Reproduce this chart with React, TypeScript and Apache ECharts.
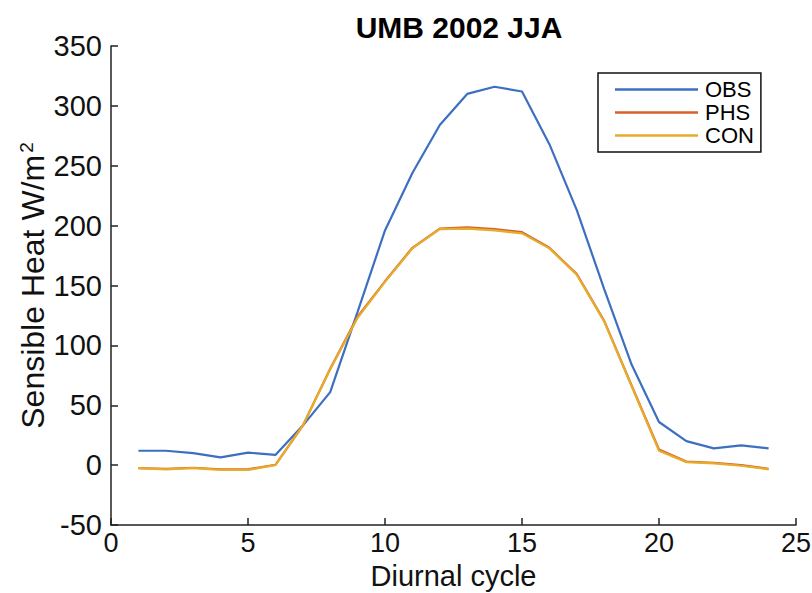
import React, { useEffect, useRef } from "react";
import * as echarts from "echarts";

const hours = [1, 2, 3, 4, 5, 6, 7, 8, 9, 10, 11, 12, 13, 14, 15, 16, 17, 18, 19, 20, 21, 22, 23, 24];
const obs = [12, 12, 10, 6.5, 10.5, 8.5, 33, 61, 128, 196, 244, 284, 310, 316, 312, 268, 213, 147, 84, 36, 20, 14, 16.5, 14];
const phs = [-2.5, -3.2, -2.2, -3.5, -3.5, 0.3, 33, 80.5, 124, 153.5, 181.5, 197.5, 198.5, 197, 194.5, 181.5, 159.5, 120.5, 66.5, 13, 3, 2, 0, -3];
const con = [-2.5, -3.5, -2.5, -4, -4, 0, 33, 80, 123, 153, 181, 197, 197.5, 196, 193.5, 181, 159, 120, 66, 12, 2.5, 1.5, -0.5, -3.5];
const seriesNames = ["OBS", "PHS", "CON"];
const seriesColors = ["#3d6fc1", "#d5602a", "#e6ad2c"];

const FONT = "'Liberation Sans', Arial, Helvetica, sans-serif";

export default function App() {
  const ref = useRef<HTMLDivElement>(null);
  useEffect(() => {
    if (!ref.current) return;
    const chart = echarts.init(ref.current, undefined, { renderer: "svg" });
    const values = [obs, phs, con];
    chart.setOption({
      animation: false,
      backgroundColor: "#ffffff",
      textStyle: { fontFamily: FONT },
      title: {
        text: "UMB 2002 JJA",
        left: 454,
        top: 7,
        textAlign: "center",
        textStyle: { fontFamily: FONT, fontSize: 30, fontWeight: "bold", color: "#000" },
      },
      legend: {
        orient: "vertical",
        left: 598,
        top: 73,
        data: seriesNames,
        icon: "rect",
        itemWidth: 83,
        itemHeight: 2.5,
        itemGap: 0,
        padding: [5, 7, 5, 17],
        borderColor: "#111",
        borderWidth: 1.5,
        backgroundColor: "#fff",
        textStyle: { fontFamily: FONT, fontSize: 22, color: "#000", lineHeight: 23, padding: [0, 0, 0, 2] },
      },
      grid: { left: 111, right: 16, top: 46, bottom: 68, containLabel: false, outerBoundsMode: "none" },
      xAxis: {
        type: "value",
        min: 0,
        max: 25,
        interval: 5,
        name: "Diurnal cycle",
        nameLocation: "middle",
        nameGap: 40,
        nameMoveOverlap: false,
        nameTextStyle: { fontFamily: FONT, fontSize: 29, color: "#111", lineHeight: 22 },
        axisLine: { show: true, onZero: false, lineStyle: { color: "#222", width: 1.5 } },
        axisTick: { show: true, inside: true, length: 7, lineStyle: { color: "#222", width: 1.5 } },
        axisLabel: { fontFamily: FONT, fontSize: 27, color: "#111", margin: 8, lineHeight: 20 },
        splitLine: { show: false },
      },
      yAxis: {
        type: "value",
        min: -50,
        max: 350,
        interval: 50,
        name: "{a|Sensible Heat W/m}{s|2}",
        nameLocation: "middle",
        nameRotate: 90,
        nameGap: 62,
        nameMoveOverlap: false,
        nameTextStyle: {
          rich: {
            a: { fontFamily: FONT, fontSize: 32, color: "#111", lineHeight: 32 },
            s: { fontFamily: FONT, fontSize: 19, color: "#111", verticalAlign: "top", lineHeight: 32, padding: [0, 0, 13, 2] },
          },
        },
        axisLine: { show: true, lineStyle: { color: "#222", width: 1.5 } },
        axisTick: { show: true, inside: true, length: 7, lineStyle: { color: "#222", width: 1.5 } },
        axisLabel: { fontFamily: FONT, fontSize: 29, color: "#111", margin: 9 },
        splitLine: { show: false },
      },
      series: seriesNames.map((name, i) => ({
        name,
        type: "line",
        data: hours.map((h, j) => [h, values[i][j]]),
        showSymbol: false,
        symbol: "none",
        color: seriesColors[i],
        lineStyle: { color: seriesColors[i], width: 2.2 },
        z: 2 + i,
      })),
    });
    return () => chart.dispose();
  }, []);
  return (
    <div
      ref={ref}
      style={{ position: "fixed", left: 0, top: 0, width: 812, height: 593, background: "#fff" }}
    />
  );
}
